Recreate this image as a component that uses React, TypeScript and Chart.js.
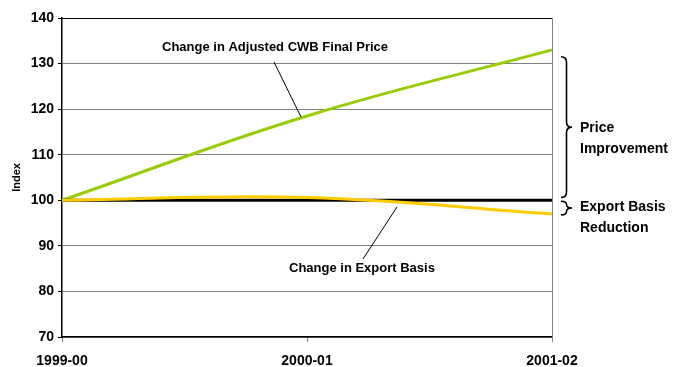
import React, { useEffect, useRef } from "react";
import { Chart, registerables } from "chart.js";

Chart.register(...registerables);

const categories = ["1999-00", "2000-01", "2001-02"];
const cwbPrice = [100, 118.5, 133];
const exportBasis = [100, 100.6, 97];
const baseline = [100, 100, 100];
const yTicks = [70, 80, 90, 100, 110, 120, 130, 140];

const FONT = "'Liberation Sans', Arial, sans-serif";

const annotPlugin = {
  id: "annot",
  afterDraw(chart: any) {
    const ctx = chart.ctx;
    const ys = chart.scales.y;
    const area = chart.chartArea;
    ctx.save();
    // right border
    ctx.strokeStyle = "#808080";
    ctx.lineWidth = 1;
    ctx.beginPath();
    ctx.moveTo(area.right + 0.5, area.top);
    ctx.lineTo(area.right + 0.5, area.bottom + 5);
    ctx.stroke();
    // top border
    ctx.strokeStyle = "#000";
    ctx.beginPath();
    ctx.moveTo(area.left, area.top + 0.5);
    ctx.lineTo(area.right, area.top + 0.5);
    ctx.stroke();

    // axis title
    ctx.fillStyle = "#000";
    ctx.save();
    ctx.translate(17, (area.top + area.bottom) / 2);
    ctx.rotate(-Math.PI / 2);
    ctx.font = `bold 11px ${FONT}`;
    ctx.textAlign = "center";
    ctx.textBaseline = "middle";
    ctx.fillText("Index", 0, 0);
    ctx.restore();

    // label texts
    ctx.font = `bold 13px ${FONT}`;
    ctx.textBaseline = "middle";
    ctx.textAlign = "left";
    ctx.fillText("Change in Adjusted CWB Final Price", 162, 47);
    ctx.fillText("Change in Export Basis", 289, 268);

    // leader lines
    ctx.strokeStyle = "#000";
    ctx.lineWidth = 1;
    ctx.beginPath();
    ctx.moveTo(274, 62);
    ctx.lineTo(301, 117);
    ctx.moveTo(363, 259);
    ctx.lineTo(397, 207);
    ctx.stroke();

    // braces
    const brace = (x: number, y1: number, y2: number, w: number) => {
      const mid = (y1 + y2) / 2;
      const h = w / 2;
      const r = Math.min(h, (mid - y1) / 2);
      ctx.beginPath();
      ctx.moveTo(x, y1);
      ctx.quadraticCurveTo(x + h, y1, x + h, y1 + r);
      ctx.lineTo(x + h, mid - r);
      ctx.quadraticCurveTo(x + h, mid, x + w, mid);
      ctx.quadraticCurveTo(x + h, mid, x + h, mid + r);
      ctx.lineTo(x + h, y2 - r);
      ctx.quadraticCurveTo(x + h, y2, x, y2);
      ctx.stroke();
    };
    ctx.lineWidth = 1.6;
    brace(561, ys.getPixelForValue(131.5), ys.getPixelForValue(100.6), 11);
    brace(561, ys.getPixelForValue(99.8), ys.getPixelForValue(96.8), 11);

    ctx.font = `bold 14px ${FONT}`;
    ctx.fillText("Price", 580, 128);
    ctx.fillText("Improvement", 580, 149);
    ctx.fillText("Export Basis", 580, 207);
    ctx.fillText("Reduction", 580, 228);
    ctx.restore();
  },
};

export default function App() {
  const ref = useRef<HTMLCanvasElement>(null);
  useEffect(() => {
    document.body.style.margin = "0";
    const chart = new Chart(ref.current!, {
      type: "line",
      data: {
        labels: categories,
        datasets: [
          {
            label: "Change in Export Basis",
            data: exportBasis,
            borderColor: "#FFCC00",
            borderWidth: 3,
            pointRadius: 0,
            tension: 0.4,
            order: 0,
          },
          {
            label: "Baseline",
            data: baseline,
            borderColor: "#000000",
            borderWidth: 3,
            pointRadius: 0,
            order: 1,
          },
          {
            label: "Change in Adjusted CWB Final Price",
            data: cwbPrice,
            borderColor: "#99CC00",
            borderWidth: 3,
            pointRadius: 0,
            tension: 0.4,
            order: 2,
          },
        ],
      },
      options: {
        responsive: false,
        animation: false,
        layout: { padding: { top: 18, right: 123, left: 0, bottom: 0 } },
        plugins: { legend: { display: false }, tooltip: { enabled: false } },
        scales: {
          x: {
            offset: false,
            grid: { drawOnChartArea: false, tickLength: 5, color: "#000", tickColor: "#808080" },
            border: { color: "#000", width: 1.5 },
            ticks: { font: { family: FONT, size: 14, weight: "bold" }, color: "#000", padding: 11, maxRotation: 0 },
            afterFit: (s: any) => { s.height = 30; },
          },
          y: {
            min: 70,
            max: 140,
            afterBuildTicks: (s: any) => { s.ticks = yTicks.map((v) => ({ value: v })); },
            grid: { color: "#808080", tickLength: 4, tickColor: "#000" },
            border: { color: "#000", width: 1.5 },
            ticks: { font: { family: FONT, size: 14, weight: "bold" }, color: "#000", padding: 4 },
            afterFit: (s: any) => { s.width = 62; },
          },
        },
      },
      plugins: [annotPlugin],
    });
    return () => chart.destroy();
  }, []);
  return <canvas ref={ref} width={675} height={367} style={{ display: "block" }} />;
}
